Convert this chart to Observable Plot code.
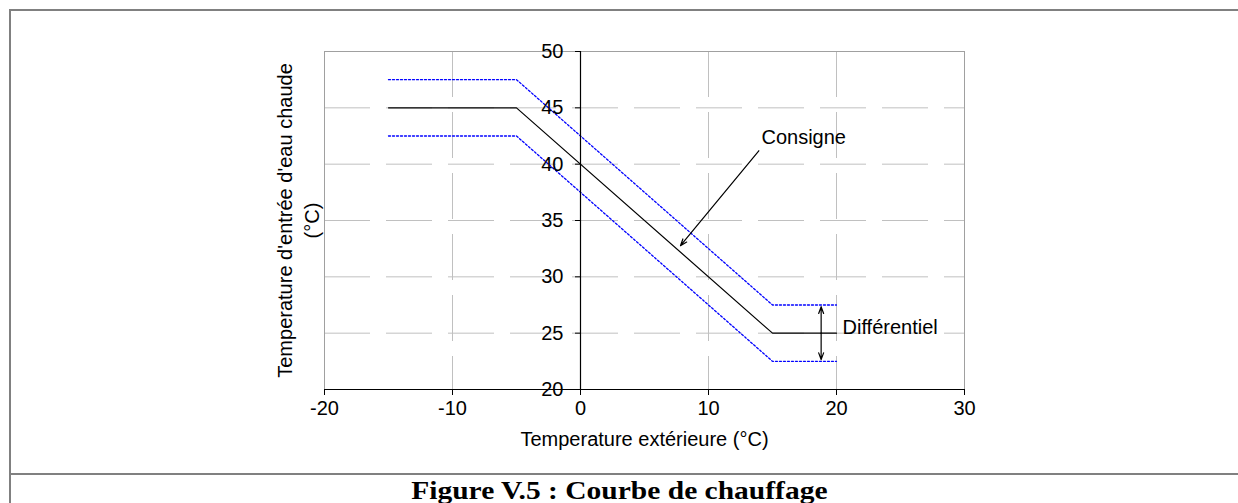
<!DOCTYPE html>
<html><head><meta charset="utf-8">
<script src="https://cdn.jsdelivr.net/npm/d3@7"></script>
<script src="https://cdn.jsdelivr.net/npm/@observablehq/plot@0.6"></script>
<style>
html,body{margin:0;padding:0;background:#fff;}
#wrap{position:relative;width:1238px;height:503px;overflow:hidden;background:#fff;}
#chart{position:absolute;left:0;top:0;}
.fl{position:absolute;background:#808080;}
#caption{position:absolute;left:0;width:1238px;top:477px;height:28px;text-align:center;font-family:"Liberation Serif","Times New Roman",serif;font-weight:bold;font-size:25px;line-height:28px;color:#000;}
#caption span{display:inline-block;transform:scaleX(1.18);}
</style></head><body>
<div id="wrap">
<div id="chart"></div>
<div class="fl" style="left:9px;top:9px;width:1229px;height:2px"></div>
<div class="fl" style="left:9px;top:9px;width:2px;height:494px"></div>
<div class="fl" style="left:9px;top:473px;width:1229px;height:2px"></div>
<div id="caption"><span>Figure V.5 : Courbe de chauffage</span></div>
</div>
<script>
// Data
const tempExt   = [-15, -5, 15, 20];
const consigne  = [45, 45, 25, 25];
const borneHaut = [47.5, 47.5, 27.5, 27.5];
const borneBas  = [42.5, 42.5, 22.5, 22.5];
const xTicks = [-20, -10, 0, 10, 20, 30];
const yTicks = [20, 25, 30, 35, 40, 45, 50];
const xGrid = [-10, 10, 20];
const yGrid = [25, 30, 35, 40, 45];
const xTitle = "Temperature extérieure (°C)";
const yTitle = "Temperature d'entrée d'eau chaude\n(°C)";
// annotations
const annoLabels = ["Consigne", "Différentiel"];
const annoX = [14.14, 20.47];
const annoY = [42.34, 25.46];
const arrowX1 = [13.93, 18.8, 18.8];
const arrowY1 = [41.19, 25, 25];
const arrowX2 = [7.81, 18.8, 18.8];
const arrowY2 = [32.76, 27.35, 22.65];

const rows = tempExt.map((x, i) => ({x, c: consigne[i], h: borneHaut[i], b: borneBas[i]}));
const annos = annoLabels.map((t, i) => ({t, x: annoX[i], y: annoY[i]}));
const arrows = arrowX1.map((x1, i) => ({x1, y1: arrowY1[i], x2: arrowX2[i], y2: arrowY2[i]}));

const chart = Plot.plot({
  width: 1238, height: 470,
  marginLeft: 324, marginRight: 274, marginTop: 51, marginBottom: 81,
  x: {domain: [-20, 30], axis: null},
  y: {domain: [20, 50], axis: null},
  style: {background: "transparent", fontFamily: "'Liberation Sans', Arial, sans-serif", color: "#000", overflow: "visible"},
  marks: [
    Plot.ruleY(yGrid, {y: d => d, x1: -20, x2: 30, stroke: "#c0c0c0", strokeDasharray: "46,16"}),
    Plot.ruleX(xGrid, {x: d => d, y1: 50, y2: 20, stroke: "#c0c0c0", strokeDasharray: "46,15"}),
    Plot.ruleY([50], {y: d => d, x1: -20, x2: 30, stroke: "#a0a0a0"}),
    Plot.ruleX([-20, 30], {x: d => d, y1: 50, y2: 20, stroke: "#a0a0a0"}),
    Plot.line(rows, {x: "x", y: "h", stroke: "#0000ff", strokeWidth: 1.3, strokeDasharray: "2,2"}),
    Plot.line(rows, {x: "x", y: "b", stroke: "#0000ff", strokeWidth: 1.3, strokeDasharray: "2,2"}),
    Plot.line(rows, {x: "x", y: "c", stroke: "#000", strokeWidth: 1.2}),
    // axes
    Plot.ruleY([20], {y: d => d, x1: -20, x2: 30, stroke: "#000", strokeWidth: 1.2}),
    Plot.ruleX([0], {x: d => d, y1: 20, y2: 50, stroke: "#000", strokeWidth: 1.2}),
    Plot.ruleX(xTicks, {x: d => d, y1: 20, y2: 20, insetBottom: -6, stroke: "#000"}),
    Plot.ruleY(yTicks, {y: d => d, x1: 0, x2: 0, insetLeft: -5, stroke: "#000"}),
    Plot.text(xTicks, {x: d => d, y: 20, dy: 19, text: d => String(d), fontSize: 20}),
    Plot.text(yTicks, {x: 0, y: d => d, dx: -17, textAnchor: "end", text: d => String(d), fontSize: 20}),
    Plot.text([xTitle], {frameAnchor: "bottom", dy: 56, textAnchor: "middle", text: d => d, fontSize: 20}),
    Plot.text([yTitle], {frameAnchor: "left", dx: -27.5, rotate: -90, textAnchor: "middle", lineAnchor: "middle", text: d => d, fontSize: 20, lineHeight: 1.35}),
    // annotations
    Plot.arrow(arrows, {x1: "x1", y1: "y1", x2: "x2", y2: "y2", stroke: "#000", strokeWidth: 1.2, headLength: 9, headAngle: 40}),
    Plot.text(annos, {x: "x", y: "y", text: "t", textAnchor: "start", fontSize: 20})
  ]
});
document.getElementById("chart").appendChild(chart);
</script>
</body></html>
